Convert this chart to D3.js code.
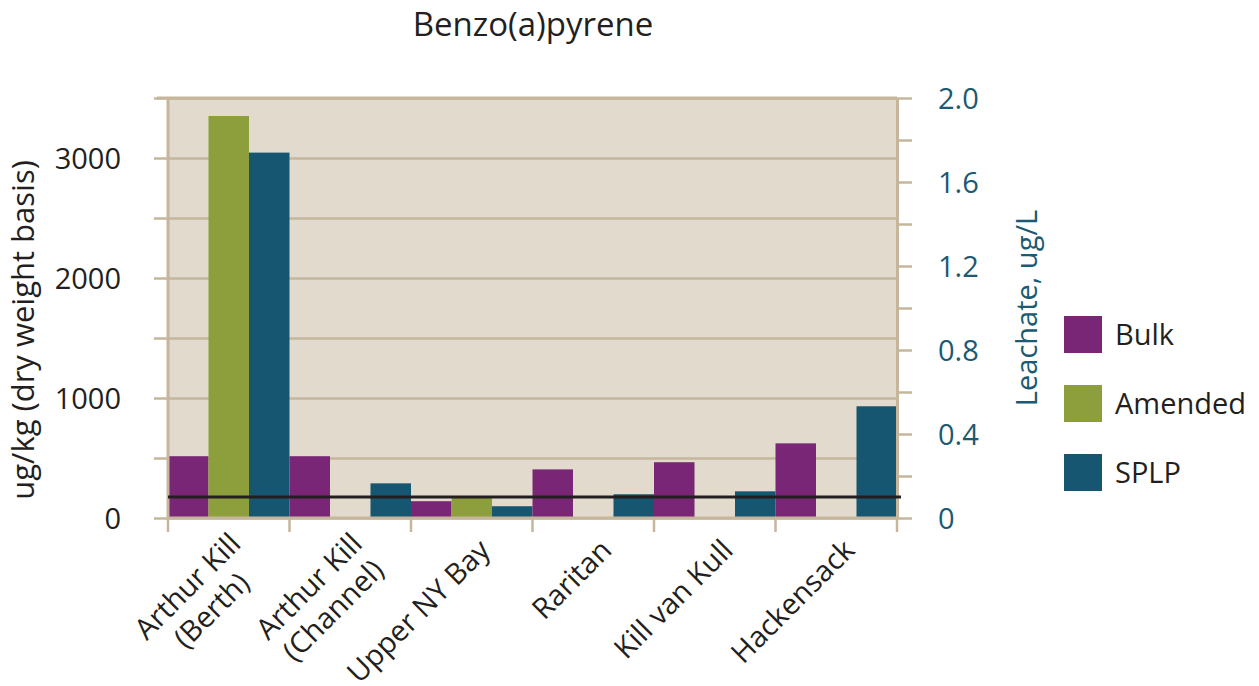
<!DOCTYPE html>
<html>
<head>
<meta charset="utf-8">
<script src="https://cdn.jsdelivr.net/npm/d3@7"></script>
<style>
  body { margin: 0; background: #fff; }
  svg text { font-family: "Open Sans", sans-serif; fill: #231f20; }
</style>
</head>
<body>
<div id="chart"></div>
<script>
// values
var categories = ["Arthur Kill (Berth)", "Arthur Kill (Channel)", "Upper NY Bay", "Raritan", "Kill van Kull", "Hackensack"];
var category_lines = [["Arthur Kill", "(Berth)"], ["Arthur Kill", "(Channel)"], ["Upper NY Bay"], ["Raritan"], ["Kill van Kull"], ["Hackensack"]];
var series = ["Bulk", "Amended", "SPLP"];
var series_colors = ["#7a2677", "#8c9f3c", "#175670"];
var bulk = [515, 515, 140, 405, 465, 622];          // ug/kg, left axis
var amended = [3350, null, 182, null, null, null];  // ug/kg, left axis
var splp = [1.74, 0.165, 0.056, 0.113, 0.127, 0.532]; // ug/L, right axis
var splp_limit = 0.1;
var left_ticks = [0, 500, 1000, 1500, 2000, 2500, 3000, 3500];
var left_labels = [0, 1000, 2000, 3000];
var right_ticks = [0, 0.2, 0.4, 0.6, 0.8, 1.0, 1.2, 1.4, 1.6, 1.8, 2.0];
var right_labels = [0, 0.4, 0.8, 1.2, 1.6, 2.0];

function draw_chart() {
   var W = 1259, H = 686;
   var p_left = 168, p_right = 897, p_top = 98, p_bottom = 518;
   var tan = "#c5b69c", teal = "#1b5a73";

   var svg = d3.select("#chart").append("svg").attr("width", W).attr("height", H);

   var x = d3.scaleBand().domain(categories).range([p_left, p_right]).padding(0);
   var xs = d3.scaleBand().domain(series).range([0, x.bandwidth()]).padding(0);
   var yL = d3.scaleLinear().domain([0, 3500]).range([p_bottom, p_top]);
   var yR = d3.scaleLinear().domain([0, 2]).range([p_bottom, p_top]);

   svg.append("rect").attr("x", p_left).attr("y", p_top).attr("width", p_right - p_left).attr("height", p_bottom - p_top)
      .attr("fill", "#e1dacd");

   // left axis + gridlines
   var gL = svg.append("g").attr("transform", "translate(" + p_left + ",0)")
      .call(d3.axisLeft(yL).tickValues(left_ticks).tickSizeInner(-(p_right - p_left)).tickSizeOuter(0).tickPadding(47)
         .tickFormat(function(d) { return left_labels.indexOf(d) >= 0 ? d : ""; }));
   gL.select(".domain").remove();
   gL.selectAll(".tick line").attr("x1", -14).attr("stroke", tan).attr("stroke-width", 2.5);
   gL.selectAll(".tick text").style("font-size", "29px").style("fill", "#231f20").attr("dy", "0.36em");

   // bars
   var rows = categories.map(function(c, i) {
      return [
         { cat: c, s: "Bulk", v: bulk[i], y: yL },
         { cat: c, s: "Amended", v: amended[i], y: yL },
         { cat: c, s: "SPLP", v: splp[i], y: yR }
      ];
   });
   svg.append("g").selectAll("g").data(rows).enter().append("g")
      .selectAll("rect").data(function(d) { return d.filter(function(b) { return b.v != null; }); })
      .enter().append("rect")
      .attr("x", function(d) { return x(d.cat) + xs(d.s); })
      .attr("width", xs.bandwidth())
      .attr("y", function(d) { return d.y(d.v); })
      .attr("height", function(d) { return p_bottom - d.y(d.v); })
      .attr("fill", function(d) { return series_colors[series.indexOf(d.s)]; });

   // axis lines
   svg.append("line").attr("x1", p_left).attr("x2", p_left).attr("y1", p_top).attr("y2", p_bottom + 1)
      .attr("stroke", tan).attr("stroke-width", 3);
   svg.append("line").attr("x1", p_left).attr("x2", p_right).attr("y1", p_bottom).attr("y2", p_bottom)
      .attr("stroke", tan).attr("stroke-width", 3);
   svg.append("line").attr("x1", p_left - 11).attr("x2", p_right).attr("y1", p_top).attr("y2", p_top)
      .attr("stroke", tan).attr("stroke-width", 3);

   // category boundary ticks
   var bounds = categories.map(function(c) { return x(c); }).concat([p_right]);
   svg.append("g").selectAll("line").data(bounds).enter().append("line")
      .attr("x1", function(d) { return d; }).attr("x2", function(d) { return d; })
      .attr("y1", p_bottom).attr("y2", p_bottom + 14)
      .attr("stroke", tan).attr("stroke-width", 2.5);

   // right axis
   var gR = svg.append("g").attr("transform", "translate(" + p_right + ",0)")
      .call(d3.axisRight(yR).tickValues(right_ticks).tickSizeInner(15).tickSizeOuter(0).tickPadding(26)
         .tickFormat(function(d) {
            var hit = right_labels.some(function(v) { return Math.abs(v - d) < 1e-9; });
            if (!hit) return "";
            return d === 0 ? "0" : d3.format(".1f")(d);
         }));
   gR.select(".domain").attr("stroke", tan).attr("stroke-width", 3);
   gR.selectAll(".tick line").attr("stroke", tan).attr("stroke-width", 2.5);
   gR.selectAll(".tick text").style("font-size", "29px").style("fill", teal).attr("dy", "0.36em");

   // limit line
   svg.append("line").attr("x1", p_left).attr("x2", p_right + 4)
      .attr("y1", yR(splp_limit)).attr("y2", yR(splp_limit))
      .attr("stroke", "#231f20").attr("stroke-width", 3);

   // category labels, rotated
   var lab = svg.append("g").selectAll("g").data(categories).enter().append("g")
      .attr("transform", function(d) { return "translate(" + (x(d) + x.bandwidth() / 2 + 20) + "," + 552 + ") rotate(-45)"; });
   lab.each(function(d, i) {
      var g = d3.select(this);
      var lines = category_lines[i];
      var shift = lines.length > 1 ? -9 : 0;
      var texts = lines.map(function(t, j) {
         return g.append("text").attr("y", j * 34 + shift).style("font-size", "29px").attr("text-anchor", "middle").text(t);
      });
      var wmax = d3.max(texts, function(t) { return t.node().getComputedTextLength(); });
      texts.forEach(function(t) { t.attr("x", -wmax / 2); });
   });

   // title and axis titles
   svg.append("text").attr("x", 533).attr("y", 36).attr("text-anchor", "middle")
      .style("font-size", "33px").text("Benzo(a)pyrene");
   svg.append("text").attr("transform", "translate(34,330) rotate(-90)").attr("text-anchor", "middle")
      .style("font-size", "31px").text("ug/kg (dry weight basis)");
   svg.append("text").attr("transform", "translate(1037,308) rotate(-90)").attr("text-anchor", "middle")
      .style("font-size", "29px").style("fill", teal).text("Leachate, ug/L");

   // legend
   var leg = svg.append("g").selectAll("g").data(series).enter().append("g")
      .attr("transform", function(d, i) { return "translate(1064," + (316 + i * 69) + ")"; });
   leg.append("rect").attr("width", 38).attr("height", 37)
      .attr("fill", function(d, i) { return series_colors[i]; });
   leg.append("text").attr("x", 51).attr("y", 29).style("font-size", "29px").text(function(d) { return d; });
}

draw_chart();
</script>
</body>
</html>
